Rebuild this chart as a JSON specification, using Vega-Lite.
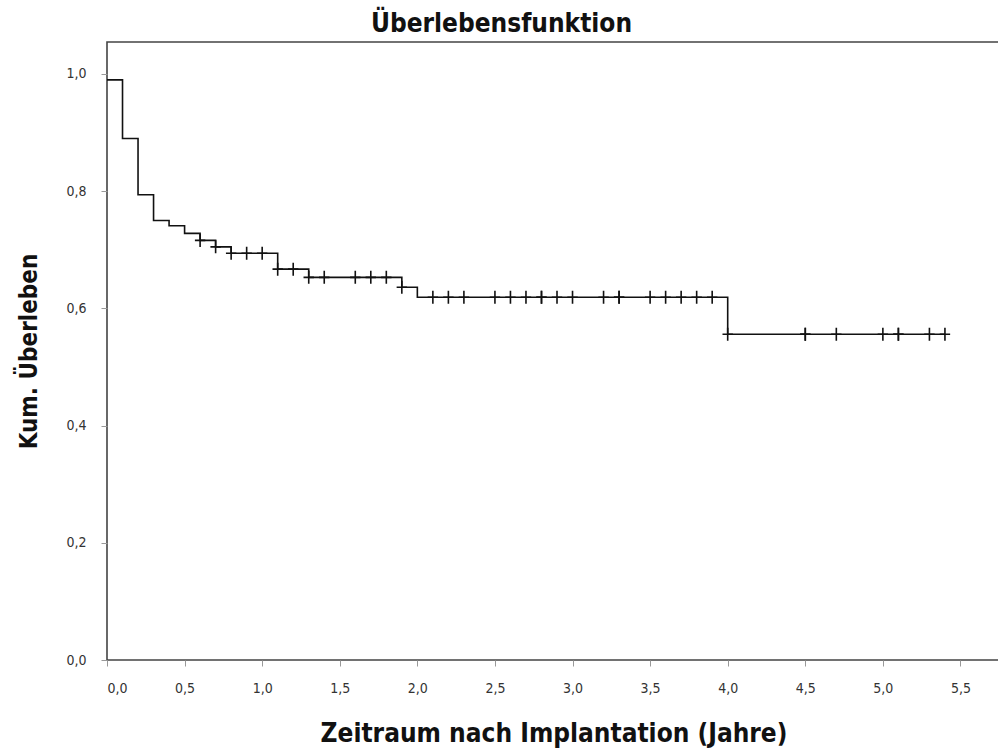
{
  "$schema": "https://vega.github.io/schema/vega-lite/v6.json",
  "width": 893,
  "height": 618,
  "padding": {"left": 107, "top": 42, "right": 0, "bottom": 89},
  "autosize": {"type": "none"},
  "background": "white",
  "title": {
    "text": "Überlebensfunktion",
    "font": "DejaVu Sans Condensed, Open Sans, sans-serif",
    "fontSize": 26,
    "fontWeight": "bold",
    "color": "#111",
    "anchor": "middle",
    "frame": "group",
    "dx": -52,
    "offset": 5
  },
  "datasets": {
    "curve": [
      {"t": 0.0, "s": 0.99},
      {"t": 0.1, "s": 0.89},
      {"t": 0.2, "s": 0.794},
      {"t": 0.3, "s": 0.75},
      {"t": 0.4, "s": 0.741},
      {"t": 0.5, "s": 0.728},
      {"t": 0.6, "s": 0.716},
      {"t": 0.7, "s": 0.705},
      {"t": 0.8, "s": 0.694},
      {"t": 1.1, "s": 0.667},
      {"t": 1.3, "s": 0.653},
      {"t": 1.9, "s": 0.636},
      {"t": 2.0, "s": 0.619},
      {"t": 4.0, "s": 0.556},
      {"t": 5.4, "s": 0.556}
    ],
    "censored": [
      {"t": 0.6, "s": 0.716},
      {"t": 0.7, "s": 0.705},
      {"t": 0.8, "s": 0.694},
      {"t": 0.9, "s": 0.694},
      {"t": 1.0, "s": 0.694},
      {"t": 1.1, "s": 0.667},
      {"t": 1.2, "s": 0.667},
      {"t": 1.3, "s": 0.653},
      {"t": 1.4, "s": 0.653},
      {"t": 1.6, "s": 0.653},
      {"t": 1.7, "s": 0.653},
      {"t": 1.8, "s": 0.653},
      {"t": 1.9, "s": 0.636},
      {"t": 2.1, "s": 0.619},
      {"t": 2.2, "s": 0.619},
      {"t": 2.3, "s": 0.619},
      {"t": 2.5, "s": 0.619},
      {"t": 2.6, "s": 0.619},
      {"t": 2.7, "s": 0.619},
      {"t": 2.8, "s": 0.619},
      {"t": 2.8, "s": 0.619},
      {"t": 2.9, "s": 0.619},
      {"t": 3.0, "s": 0.619},
      {"t": 3.2, "s": 0.619},
      {"t": 3.3, "s": 0.619},
      {"t": 3.3, "s": 0.619},
      {"t": 3.5, "s": 0.619},
      {"t": 3.6, "s": 0.619},
      {"t": 3.7, "s": 0.619},
      {"t": 3.8, "s": 0.619},
      {"t": 3.9, "s": 0.619},
      {"t": 4.0, "s": 0.556},
      {"t": 4.5, "s": 0.556},
      {"t": 4.5, "s": 0.556},
      {"t": 4.7, "s": 0.556},
      {"t": 5.0, "s": 0.556},
      {"t": 5.1, "s": 0.556},
      {"t": 5.1, "s": 0.556},
      {"t": 5.3, "s": 0.556},
      {"t": 5.4, "s": 0.556}
    ]
  },
  "encoding": {
    "x": {
      "field": "t",
      "type": "quantitative",
      "scale": {"domain": [0, 5.7548], "nice": false, "zero": false},
      "axis": {
        "title": "Zeitraum nach Implantation (Jahre)",
        "values": [0, 0.5, 1, 1.5, 2, 2.5, 3, 3.5, 4, 4.5, 5, 5.5],
        "labelExpr": "replace(format(datum.value, '.1f'), '.', ',')",
        "labelPadding": 15,
        "titleY": 81,
        "titleBaseline": "alphabetic",
        "titleFontSize": 26
      }
    },
    "y": {
      "field": "s",
      "type": "quantitative",
      "scale": {"domain": [0, 1.0546], "nice": false, "zero": false},
      "axis": {
        "title": "Kum. Überleben",
        "values": [0, 0.2, 0.4, 0.6, 0.8, 1.0],
        "labelExpr": "replace(format(datum.value, '.1f'), '.', ',')",
        "labelPadding": 15,
        "titlePadding": 24,
        "titleFontSize": 24
      }
    }
  },
  "layer": [
    {
      "data": {"name": "curve"},
      "mark": {"type": "line", "interpolate": "step-after", "color": "#111", "strokeWidth": 1.6}
    },
    {
      "data": {"name": "censored"},
      "mark": {
        "type": "point",
        "shape": "M-0.8,0H0.8M0,-1V1",
        "filled": false,
        "color": "#111",
        "strokeWidth": 1.6,
        "size": 169,
        "opacity": 1
      }
    }
  ],
  "config": {
    "view": {"stroke": "#444", "strokeWidth": 1.6},
    "axis": {
      "domain": false,
      "grid": false,
      "ticks": true,
      "tickColor": "#999",
      "tickSize": 6,
      "tickWidth": 1,
      "labelFont": "DejaVu Sans Condensed, Open Sans, sans-serif",
      "labelFontSize": 14,
      "labelColor": "#333",
      "titleFont": "DejaVu Sans Condensed, Open Sans, sans-serif",
      "titleFontWeight": "bold",
      "titleColor": "#111"
    }
  }
}
